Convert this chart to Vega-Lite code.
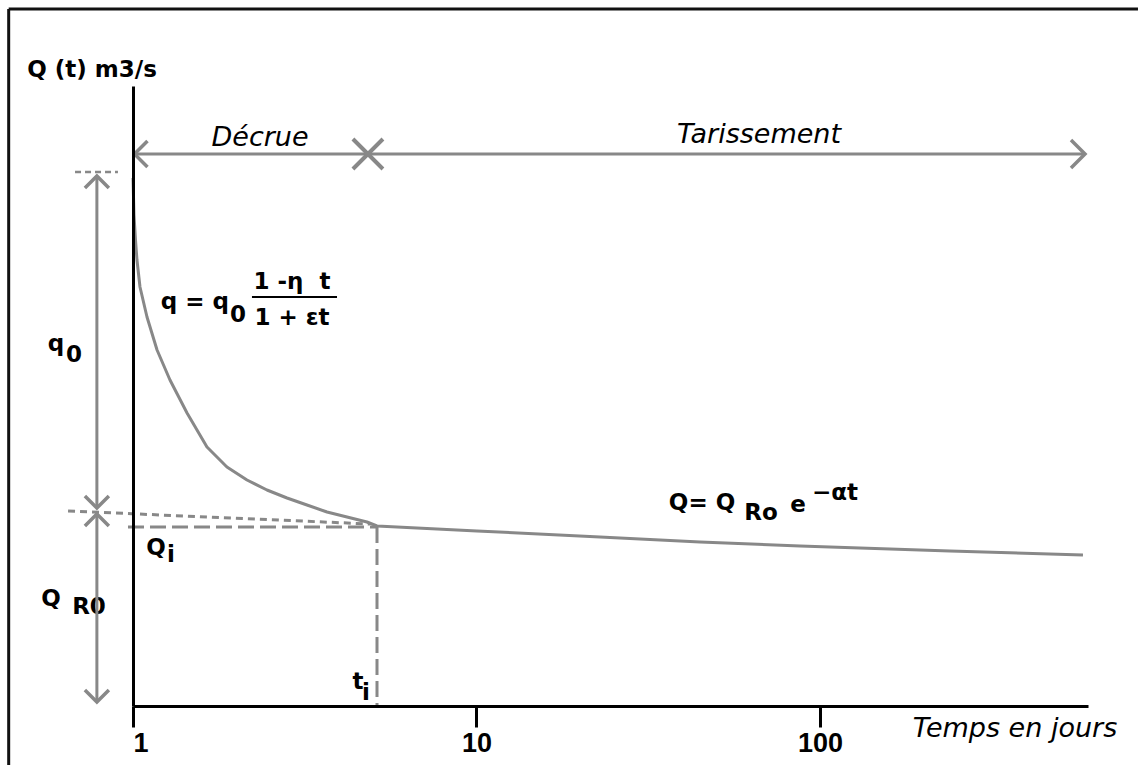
{
  "$schema": "https://vega.github.io/schema/vega-lite/v6.json",
  "width": 955,
  "height": 620,
  "autosize": {"type": "none"},
  "padding": {"left": 133, "top": 86, "right": 50, "bottom": 59},
  "background": "white",
  "config": {"view": {"stroke": null}, "font": "DejaVu Sans"},
  "datasets": {
    "curve": [
      {"t": 1, "q": 528}, {"t": 1.0067, "q": 491}, {"t": 1.0169, "q": 466}, {"t": 1.027, "q": 446},
      {"t": 1.048, "q": 419}, {"t": 1.0984, "q": 389}, {"t": 1.175, "q": 356}, {"t": 1.2814, "q": 326},
      {"t": 1.4365, "q": 293}, {"t": 1.642, "q": 259}, {"t": 1.877, "q": 239}, {"t": 2.147, "q": 226},
      {"t": 2.455, "q": 216}, {"t": 2.808, "q": 208}, {"t": 3.21, "q": 201}, {"t": 3.671, "q": 194},
      {"t": 4.198, "q": 189}, {"t": 4.8, "q": 184}, {"t": 5.133, "q": 180}, {"t": 10.03, "q": 175},
      {"t": 22.88, "q": 169}, {"t": 44.75, "q": 164}, {"t": 87.5, "q": 160}, {"t": 239, "q": 155},
      {"t": 583, "q": 151}
    ],
    "hrules": [{"t": 1, "t2": 588, "q": 552}],
    "vrules": [{"t": 0.785, "q": 530, "q2": 198}, {"t": 0.785, "q": 192, "q2": 4}],
    "up": [{"t": 0.785, "q": 530}, {"t": 0.785, "q": 192}],
    "down": [{"t": 0.785, "q": 198}, {"t": 0.785, "q": 4}],
    "left": [{"t": 1.01, "q": 552}],
    "right": [{"t": 591, "q": 552}],
    "cross": [{"t": 4.83, "q": 552}],
    "frameH": [{"t": 0.4346, "t2": 843, "q": 697}],
    "frameV": [{"t": 0.4346, "q": 697, "q2": -59}],
    "fracbar": [{"t": 2.22, "t2": 3.926, "q": 409}],
    "dashTop": [{"t": 0.678, "q": 534}, {"t": 0.904, "q": 534}],
    "dotted": [{"t": 0.647, "q": 195}, {"t": 4.898, "q": 182}],
    "longH": [{"t": 0.967, "t2": 5.133, "q": 179}],
    "longV": [{"t": 5.133, "q": 179, "q2": 0}],
    "italic": [
      {"t": 2.343, "q": 568, "label": "Décrue"},
      {"t": 66.44, "q": 571, "label": "Tarissement"},
      {"t": 369.6, "q": -23, "label": "Temps en jours"}
    ],
    "bold": [
      {"t": 0.760, "q": 636, "label": "Q (t) m3/s"},
      {"t": 0.597, "q": 362, "label": "q"},
      {"t": 0.6735, "q": 351, "label": "0"},
      {"t": 0.577, "q": 107, "label": "Q"},
      {"t": 0.7445, "q": 99, "label": "R0"},
      {"t": 1.1666, "q": 158, "label": "Q"},
      {"t": 1.290, "q": 151, "label": "i"},
      {"t": 4.519, "q": 24, "label": "t"},
      {"t": 4.768, "q": 13, "label": "i"},
      {"t": 1.515, "q": 404, "label": "q = q"},
      {"t": 2.022, "q": 391, "label": "0"},
      {"t": 2.903, "q": 424, "label": "1 -η\u00a0 t"},
      {"t": 2.903, "q": 388, "label": "1 + εt"},
      {"t": 45.35, "q": 203, "label": "Q= Q"},
      {"t": 67.34, "q": 193, "label": "Ro"},
      {"t": 86.3, "q": 201, "label": "e"},
      {"t": 110.6, "q": 213, "label": "−αt"}
    ]
  },
  "encoding": {
    "x": {
      "field": "t", "type": "quantitative",
      "scale": {"type": "log", "domain": [1, 603], "nice": false},
      "axis": {
        "values": [1, 10, 100], "format": "d", "tickSize": 21, "tickWidth": 3, "tickColor": "#000",
        "domainColor": "#000", "domainWidth": 3, "labelFontSize": 27, "labelFont": "Liberation Sans", "labelFontWeight": "bold",
        "labelColor": "#000", "labelPadding": 3, "labelDx": 3, "grid": false, "title": null, "zindex": 1
      }
    },
    "y": {
      "field": "q", "type": "quantitative",
      "scale": {"domain": [0, 620], "nice": false, "zero": false},
      "axis": {"ticks": false, "labels": false, "grid": false, "domainColor": "#000", "domainWidth": 3, "title": null, "zindex": 1}
    }
  },
  "layer": [
    {"data": {"name": "frameH"}, "mark": {"type": "rule", "color": "#111", "strokeWidth": 3}, "encoding": {"x2": {"field": "t2"}}},
    {"data": {"name": "frameV"}, "mark": {"type": "rule", "color": "#111", "strokeWidth": 3}, "encoding": {"y2": {"field": "q2"}}},
    {"data": {"name": "dashTop"}, "mark": {"type": "line", "color": "#888", "strokeWidth": 2.5, "strokeDash": [6, 4]}, "encoding": {}},
    {"data": {"name": "dotted"}, "mark": {"type": "line", "color": "#888", "strokeWidth": 3, "strokeDash": [7, 5]}, "encoding": {}},
    {"data": {"name": "longH"}, "mark": {"type": "rule", "color": "#888", "strokeWidth": 3, "strokeDash": [16, 6]}, "encoding": {"x2": {"field": "t2"}}},
    {"data": {"name": "longV"}, "mark": {"type": "rule", "color": "#888", "strokeWidth": 3, "strokeDash": [16, 6]}, "encoding": {"y2": {"field": "q2"}}},
    {"data": {"name": "curve"}, "mark": {"type": "line", "color": "#888", "strokeWidth": 3, "strokeJoin": "round"}, "encoding": {}},
    {"data": {"name": "hrules"}, "mark": {"type": "rule", "color": "#888", "strokeWidth": 3}, "encoding": {"x2": {"field": "t2"}}},
    {"data": {"name": "fracbar"}, "mark": {"type": "rule", "color": "#000", "strokeWidth": 2}, "encoding": {"x2": {"field": "t2"}}},
    {"data": {"name": "italic"}, "mark": {"type": "text", "font": "DejaVu Sans", "fontStyle": "italic", "fontSize": 27, "color": "#000", "align": "center", "baseline": "middle"}, "encoding": {"text": {"field": "label"}}},
    {"data": {"name": "bold"}, "mark": {"type": "text", "font": "DejaVu Sans", "fontWeight": "bold", "fontSize": 23, "color": "#000", "align": "center", "baseline": "middle"}, "encoding": {"text": {"field": "label"}}},
    {"data": {"name": "vrules"}, "mark": {"type": "rule", "color": "#888", "strokeWidth": 3}, "encoding": {"y2": {"field": "q2"}}},
    {"data": {"name": "up"}, "mark": {"type": "point", "shape": "M -1 1 L 0 0 L 1 1", "size": 576, "filled": false, "stroke": "#888", "strokeWidth": 3.5, "opacity": 1}, "encoding": {}},
    {"data": {"name": "down"}, "mark": {"type": "point", "shape": "M -1 -1 L 0 0 L 1 -1", "size": 576, "filled": false, "stroke": "#888", "strokeWidth": 3.5, "opacity": 1}, "encoding": {}},
    {"data": {"name": "left"}, "mark": {"type": "point", "shape": "M 1 -1 L 0 0 L 1 1", "size": 676, "filled": false, "stroke": "#888", "strokeWidth": 3.5, "opacity": 1}, "encoding": {}},
    {"data": {"name": "right"}, "mark": {"type": "point", "shape": "M -1 -1 L 0 0 L -1 1", "size": 784, "filled": false, "stroke": "#888", "strokeWidth": 3.5, "opacity": 1}, "encoding": {}},
    {"data": {"name": "cross"}, "mark": {"type": "point", "shape": "M -1 -1 L 1 1 M -1 1 L 1 -1", "size": 900, "filled": false, "stroke": "#888", "strokeWidth": 4, "opacity": 1}, "encoding": {}}
  ]
}
